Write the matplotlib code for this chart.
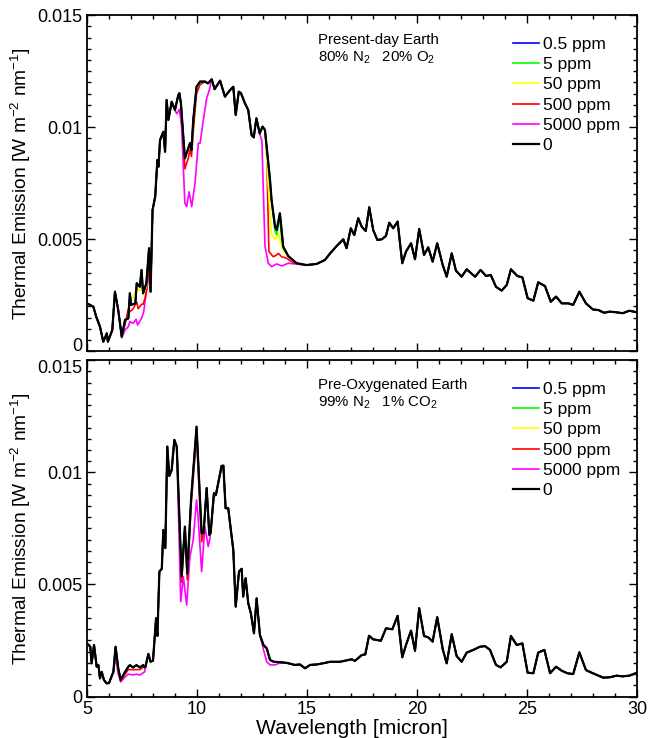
import numpy as np
import matplotlib
matplotlib.use('Agg')
import matplotlib.pyplot as plt
from matplotlib.ticker import MultipleLocator

plt.rcParams['font.family'] = ['Liberation Sans', 'DejaVu Sans']
plt.rcParams['mathtext.fontset'] = 'custom'
plt.rcParams['mathtext.rm'] = 'Liberation Sans'
plt.rcParams['mathtext.default'] = 'regular'

# ---- data (wavelength in micron, emission in W m-2 nm-1)
labels = ['0.5 ppm', '5 ppm', '50 ppm', '500 ppm', '5000 ppm', '0']
colors = ['#0000ff', '#00ff00', '#ffff00', '#ff0000', '#ff00ff', '#000000']
yticks = [0, 0.005, 0.01, 0.015]
ytick_labels = ['0', '0.005', '0.01', '0.015']

# top panel, present-day earth, no N2O (black curve)
wl_top = [5.0, 5.29, 5.42, 5.59, 5.74, 5.9, 5.95, 6.15, 6.27, 6.42, 6.58, 6.73, 6.88, 6.95, 7.0,
	7.2, 7.26, 7.4, 7.48, 7.55, 7.7, 7.82, 7.89, 7.98, 8.1, 8.2, 8.25, 8.32, 8.47, 8.55, 8.62,
	8.7, 8.85, 9.0, 9.15, 9.2, 9.27, 9.45, 9.6, 9.68, 9.75, 9.83, 9.98, 10.14, 10.36, 10.5, 10.67,
	10.8, 11.05, 11.27, 11.5, 11.65, 11.76, 11.9, 12.0, 12.18, 12.33, 12.48, 12.58, 12.7, 12.85,
	12.98, 13.09, 13.32, 13.39, 13.55, 13.62, 13.77, 13.92, 14.15, 14.53, 14.98, 15.44, 15.82,
	16.05, 16.35, 16.65, 16.8, 16.99, 17.15, 17.33, 17.49, 17.67, 17.83, 18.01, 18.2, 18.4, 18.59,
	18.74, 18.92, 19.12, 19.33, 19.5, 19.73, 19.91, 20.1, 20.32, 20.51, 20.71, 20.92, 21.17,
	21.35, 21.58, 21.77, 22.03, 22.26, 22.64, 22.89, 23.14, 23.35, 23.59, 23.85, 24.08, 24.27,
	24.56, 24.79, 25.03, 25.29, 25.51, 25.82, 26.08, 26.32, 26.58, 26.88, 27.1, 27.38, 27.68,
	27.99, 28.25, 28.5, 28.77, 29.07, 29.35, 29.65, 30.0]
em_top = [0.00214, 0.00199, 0.00154, 0.00110, 0.00043, 0.00080, 0.00043, 0.00095, 0.00266, 0.00184,
	0.00065, 0.00140, 0.00147, 0.00259, 0.00207, 0.00214, 0.00304, 0.00288, 0.00363, 0.00259,
	0.00304, 0.00460, 0.00266, 0.00631, 0.00690, 0.00854, 0.00824, 0.00943, 0.00980, 0.00891,
	0.01122, 0.01033, 0.01114, 0.01077, 0.01144, 0.01152, 0.01107, 0.00861, 0.00906, 0.00929,
	0.00899, 0.01033, 0.01181, 0.01204, 0.01204, 0.01196, 0.01214, 0.01170, 0.01208, 0.01137,
	0.01166, 0.01181, 0.01055, 0.01159, 0.01152, 0.01107, 0.01077, 0.00966, 0.00955, 0.01040,
	0.00973, 0.01003, 0.00988, 0.00765, 0.00675, 0.00556, 0.00541, 0.00616, 0.00467, 0.00425,
	0.00393, 0.00385, 0.00390, 0.00408, 0.00437, 0.00470, 0.00500, 0.00460, 0.00549, 0.00519,
	0.00594, 0.00556, 0.00537, 0.00643, 0.00541, 0.00497, 0.00500, 0.00515, 0.00574, 0.00549,
	0.00579, 0.00393, 0.00445, 0.00482, 0.00411, 0.00546, 0.00430, 0.00464, 0.00400, 0.00482,
	0.00385, 0.00333, 0.00437, 0.00360, 0.00333, 0.00366, 0.00333, 0.00363, 0.00336, 0.00341,
	0.00288, 0.00271, 0.00296, 0.00366, 0.00336, 0.00330, 0.00237, 0.00226, 0.00308, 0.00291,
	0.00221, 0.00244, 0.00214, 0.00214, 0.00207, 0.00266, 0.00214, 0.00187, 0.00184, 0.00172,
	0.00177, 0.00174, 0.00170, 0.00181, 0.00174]

# top panel: where the N2O runs leave the black curve
top_5ppm = [([13.32, 13.47, 13.55, 13.62, 13.7, 13.77, 13.85, 13.92],
	[0.0074, 0.0060, 0.00535, 0.0052, 0.0056, 0.0060, 0.0050, 0.0046])]
top_50ppm = [([6.95, 7.08, 7.26, 7.4, 7.48, 7.55, 7.7],
	[0.0023, 0.0024, 0.0028, 0.0027, 0.0033, 0.0025, 0.0029]),
	([13.09, 13.24, 13.39, 13.55, 13.62, 13.7, 13.85, 14.08, 14.3, 14.53],
	[0.0098, 0.0074, 0.0052, 0.0050, 0.0051, 0.0053, 0.0046, 0.0043, 0.0041, 0.00393])]
top_500ppm = [([6.73, 6.88, 6.95, 7.1, 7.26, 7.33, 7.48, 7.55, 7.64, 7.75, 7.82],
	[0.0012, 0.0019, 0.00177, 0.0019, 0.0022, 0.0019, 0.0021, 0.0021, 0.00238, 0.0030, 0.0042]),
	([9.45, 9.6, 9.68, 9.75, 9.83, 9.98, 10.06, 10.14],
	[0.00815, 0.0086, 0.0090, 0.0087, 0.0098, 0.0115, 0.0117, 0.0119]),
	([13.17, 13.27, 13.47, 13.62, 13.7, 13.85, 14.08, 14.3, 14.53],
	[0.0088, 0.00445, 0.00422, 0.0043, 0.00437, 0.00422, 0.00415, 0.0040, 0.0039])]
top_5000ppm = [([6.58, 6.73, 6.88, 6.95, 7.1, 7.23, 7.3, 7.48, 7.58, 7.68, 7.83],
	[0.0006, 0.00095, 0.0011, 0.00132, 0.00125, 0.00143, 0.00117, 0.00147, 0.00177, 0.00251, 0.0036]),
	([9.08, 9.2, 9.3, 9.38, 9.45, 9.53, 9.64, 9.76, 9.91, 10.06, 10.14, 10.29, 10.44, 10.56],
	[0.0106, 0.0108, 0.01003, 0.0082, 0.00661, 0.00646, 0.00712, 0.00646, 0.0075, 0.00929,
	0.00929, 0.01033, 0.01129, 0.01166]),
	([12.85, 12.95, 13.09, 13.24, 13.39, 13.62, 13.85, 14.15, 14.45, 14.75],
	[0.0097, 0.0094, 0.0047, 0.00393, 0.00378, 0.0039, 0.00381, 0.00393, 0.0039, 0.00387])]

# bottom panel, pre-oxygenated earth, no N2O (black curve)
wl_bot = [5.0, 5.15, 5.21, 5.32, 5.44, 5.52, 5.59, 5.67, 5.77, 5.89, 6.0, 6.2, 6.3, 6.42, 6.53,
	6.73, 6.88, 6.95, 7.1, 7.25, 7.4, 7.55, 7.65, 7.79, 7.89, 8.0, 8.14, 8.2, 8.29, 8.4, 8.47,
	8.56, 8.65, 8.74, 8.85, 8.97, 9.08, 9.3, 9.45, 9.56, 9.73, 9.98, 10.21, 10.3, 10.44, 10.56,
	10.62, 10.77, 10.86, 11.12, 11.2, 11.3, 11.42, 11.65, 11.76, 11.91, 12.03, 12.1, 12.21,
	12.33, 12.45, 12.59, 12.71, 12.86, 13.02, 13.17, 13.32, 13.5, 13.77, 14.08, 14.45, 14.68,
	14.91, 15.14, 15.44, 15.82, 16.05, 16.5, 17.03, 17.18, 17.49, 17.65, 17.82, 18.01, 18.36,
	18.59, 18.88, 19.12, 19.33, 19.5, 19.73, 19.91, 20.1, 20.32, 20.51, 20.71, 20.92, 21.17,
	21.35, 21.58, 21.8, 22.03, 22.26, 22.56, 22.86, 23.09, 23.32, 23.59, 23.8, 24.08, 24.27,
	24.53, 24.79, 25.03, 25.29, 25.51, 25.79, 26.05, 26.32, 26.58, 26.83, 27.1, 27.38, 27.68,
	27.99, 28.47, 28.77, 29.07, 29.35, 29.65, 30.0]
em_bot = [0.00237, 0.00222, 0.00148, 0.00230, 0.00133, 0.00140, 0.00081, 0.00110, 0.00074, 0.00059,
	0.00060, 0.00110, 0.00222, 0.00126, 0.00074, 0.00110, 0.00133, 0.00140, 0.00130, 0.00140,
	0.00130, 0.00140, 0.00130, 0.00190, 0.00155, 0.00160, 0.00349, 0.00270, 0.00557, 0.00570,
	0.00743, 0.00662, 0.01115, 0.00984, 0.01011, 0.01145, 0.01115, 0.00535, 0.00758, 0.00549,
	0.00877, 0.01204, 0.00728, 0.00730, 0.00930, 0.00721, 0.00730, 0.00907, 0.00900, 0.01029,
	0.01030, 0.00840, 0.00840, 0.00654, 0.00401, 0.00557, 0.00570, 0.00446, 0.00528, 0.00416,
	0.00371, 0.00282, 0.00438, 0.00275, 0.00230, 0.00215, 0.00163, 0.00155, 0.00153, 0.00150,
	0.00141, 0.00143, 0.00126, 0.00141, 0.00143, 0.00150, 0.00155, 0.00155, 0.00166, 0.00159,
	0.00185, 0.00188, 0.00271, 0.00255, 0.00249, 0.00304, 0.00300, 0.00360, 0.00175, 0.00230,
	0.00294, 0.00204, 0.00394, 0.00270, 0.00264, 0.00245, 0.00354, 0.00211, 0.00148, 0.00278,
	0.00181, 0.00155, 0.00196, 0.00208, 0.00222, 0.00225, 0.00208, 0.00141, 0.00130, 0.00155,
	0.00270, 0.00230, 0.00237, 0.00106, 0.00104, 0.00196, 0.00208, 0.00104, 0.00133, 0.00115,
	0.00104, 0.00100, 0.00197, 0.00118, 0.00104, 0.00084, 0.00086, 0.00093, 0.00090, 0.00093,
	0.00106]

bot_500ppm = [([6.53, 6.73, 6.88, 7.1, 7.4, 7.55],
	[0.0007, 0.0010, 0.0012, 0.0012, 0.0012, 0.0013]),
	([9.3, 9.45, 9.56, 9.73, 9.98, 10.21],
	[0.0051, 0.0073, 0.0052, 0.0085, 0.0116, 0.0069])]
bot_5000ppm = [([6.3, 6.42, 6.53, 6.73, 6.88, 7.1, 7.25, 7.4, 7.62],
	[0.00175, 0.0010, 0.00065, 0.00087, 0.0010, 0.00096, 0.0010, 0.00096, 0.0011]),
	([9.26, 9.38, 9.53, 9.68, 9.83, 9.98, 10.06, 10.21, 10.36, 10.51, 10.59, 10.77],
	[0.00423, 0.00535, 0.00408, 0.00624, 0.00699, 0.00877, 0.00788, 0.00557, 0.00758, 0.00669,
	0.00706, 0.0089]),
	([13.02, 13.17, 13.32, 13.55, 13.77],
	[0.0021, 0.00155, 0.00141, 0.00141, 0.0015])]


def splice(wl, em, segments):
	# black curve everywhere except inside the given wavelength windows
	wl = np.asarray(wl)
	em = np.asarray(em)
	keep = np.ones(len(wl), dtype=bool)
	for seg_wl, seg_em in segments:
		keep &= (wl < min(seg_wl)) | (wl > max(seg_wl))
	x = np.concatenate([wl[keep]] + [np.asarray(s[0]) for s in segments])
	y = np.concatenate([em[keep]] + [np.asarray(s[1]) for s in segments])
	order = np.argsort(x)
	return x[order], y[order]


def panel(ax, wl, em, devs, title, comp):
	zs = [6, 5, 4, 3, 2, 7]
	for lab, col, dev, z in zip(labels, colors, devs, zs):
		x, y = splice(wl, em, dev)
		lw = 1.6 if col == '#000000' else 1.2
		ax.plot(x, y, color=col, lw=lw, label=lab, zorder=z)
	ax.set_xlim(5, 30)
	ax.set_ylim(0, 0.015)
	ax.xaxis.set_major_locator(MultipleLocator(5))
	ax.xaxis.set_minor_locator(MultipleLocator(1))
	ax.set_yticks(yticks)
	ax.set_yticklabels(ytick_labels)
	ax.yaxis.set_minor_locator(MultipleLocator(0.0005))
	ax.tick_params(which='both', direction='in', top=True, right=True, labelsize=13, width=1.0)
	ax.tick_params(which='major', length=6)
	ax.tick_params(which='minor', length=3)
	for s in ax.spines.values():
		s.set_linewidth(1.3)
	ax.set_ylabel('Thermal Emission [W m$^{-2}$ nm$^{-1}$]', fontsize=13.8, labelpad=3)
	ax.text(0.42, 0.927, title, transform=ax.transAxes, fontsize=10.8, va='center')
	ax.text(0.42, 0.873, comp, transform=ax.transAxes, fontsize=10.8, va='center')
	ax.legend(loc='upper left', bbox_to_anchor=(0.775, 0.937), frameon=False, fontsize=12.5,
		handlelength=1.5, handletextpad=0.2, labelspacing=0.30, borderpad=0, borderaxespad=0)


fig = plt.figure(figsize=(6.59, 7.38), dpi=100)
ax1 = fig.add_axes([0.132, 0.524, 0.8346, 0.4553])
ax2 = fig.add_axes([0.132, 0.0562, 0.8346, 0.4556])

panel(ax1, wl_top, em_top, [[], top_5ppm, top_50ppm, top_500ppm, top_5000ppm, []],
	'Present-day Earth', '80% N$_2$   20% O$_2$')
ax1.tick_params(labelbottom=False)
# keep the "0" of the top panel clear of the "0.015" below it
ax1.yaxis.get_major_ticks()[0].label1.set_va('baseline')
panel(ax2, wl_bot, em_bot, [[], [], [], bot_500ppm, bot_5000ppm, []],
	'Pre-Oxygenated Earth', '99% N$_2$   1% CO$_2$')
ax2.yaxis.get_major_ticks()[3].label1.set_va('top')
ax2.set_xlabel('Wavelength [micron]', fontsize=15.2)
ax2.xaxis.set_label_coords(0.482, -0.066)

fig.savefig('out.png', dpi=100)
